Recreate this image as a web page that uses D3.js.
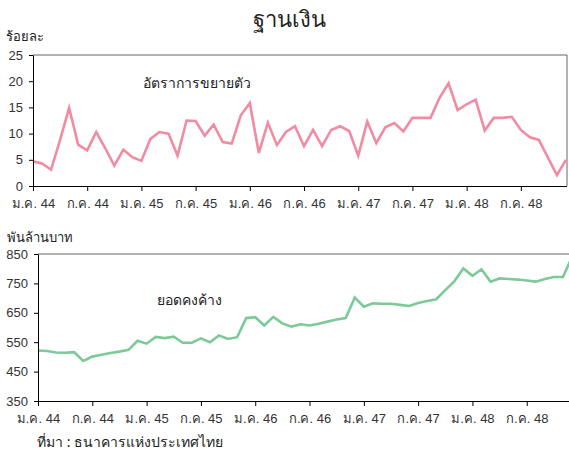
<!DOCTYPE html>
<meta charset="utf-8">
<style>
body { margin: 0; background: #fff; }
svg { font-family: "Noto Sans", "DejaVu Sans", sans-serif; }
.axis .domain { stroke: #000; }
.axis line { stroke: #000; }
.axis text { fill: #333; font-size: 13px; }
</style>
<body>
<script src="https://d3js.org/d3.v7.min.js"></script>
<script>
// monthly, ม.ค. 44 .. ธ.ค. 48
var growth = [4.7, 4.3, 3.1, 8.8, 14.9, 7.9, 6.8, 10.3, 7.2, 3.9,
  6.9, 5.5, 4.8, 9.0, 10.3, 10.0, 5.8, 12.5, 12.4, 9.6,
  11.7, 8.4, 8.1, 13.5, 15.8, 6.3, 12.1, 7.8, 10.3, 11.4,
  7.6, 10.7, 7.6, 10.7, 11.4, 10.5, 5.8, 12.3, 8.2, 11.2,
  12.0, 10.4, 13.0, 13.0, 13.0, 16.8, 19.6, 14.5, 15.6, 16.5,
  10.6, 13.0, 13.0, 13.2, 10.7, 9.3, 8.8, 5.4, 2.1, 5.0];

var outstanding = [522, 520, 515, 514, 516, 486, 501, 507, 513, 518,
  524, 555, 545, 568, 564, 569, 548, 548, 563, 550,
  573, 561, 567, 632, 635, 607, 636, 614, 603, 611,
  607, 613, 620, 627, 632, 702, 671, 682, 681, 681,
  677, 673, 683, 690, 696, 727, 757, 801, 776, 798,
  756, 767, 765, 763, 760, 756, 765, 772, 772, 840];

var tickIdx = [0, 6, 12, 18, 24, 30, 36, 42, 48, 54];
var tickLabels = ["ม.ค. 44", "ก.ค. 44", "ม.ค. 45", "ก.ค. 45", "ม.ค. 46",
  "ก.ค. 46", "ม.ค. 47", "ก.ค. 47", "ม.ค. 48", "ก.ค. 48"];

var topTicks = [0, 5, 10, 15, 20, 25];
var botTicks = [350, 450, 550, 650, 750, 850];

var W = 569, H = 453;
var svg = d3.select("body").append("svg")
  .attr("width", W).attr("height", H);

svg.append("text")
  .attr("x", 289).attr("y", 27)
  .attr("text-anchor", "middle")
  .style("font-size", "22px").style("fill", "#222")
  .text("ฐานเงิน");

function panel(opts) {
  var x = d3.scaleLinear().domain([0, 59]).range([opts.left, opts.right59]);
  var y = d3.scaleLinear().domain(opts.domain).range([opts.bottom, opts.top]);

  // top frame line
  svg.append("line")
    .attr("x1", opts.left).attr("x2", opts.frameRight)
    .attr("y1", opts.top).attr("y2", opts.top)
    .attr("stroke", "#666").attr("stroke-width", 1);
  if (opts.rightBorder) {
    svg.append("line")
      .attr("x1", opts.frameRight).attr("x2", opts.frameRight)
      .attr("y1", opts.top).attr("y2", opts.bottom)
      .attr("stroke", "#666").attr("stroke-width", 1);
  }

  var line = d3.line()
    .x(function(d, i) { return x(i); })
    .y(function(d) { return y(d); });

  svg.append("path")
    .datum(opts.data)
    .attr("fill", "none")
    .attr("stroke", opts.color)
    .attr("stroke-width", 2.6)
    .attr("stroke-linejoin", "miter")
    .attr("d", line);

  var yAxis = d3.axisLeft(y).tickValues(opts.yticks).tickSize(4).tickSizeOuter(0);
  svg.append("g")
    .attr("class", "axis")
    .attr("transform", "translate(" + opts.left + ",0)")
    .call(yAxis)
    .selectAll("text").attr("dx", "-3");

  var xAxis = d3.axisBottom(x).tickValues(tickIdx)
    .tickFormat(function(d, i) { return tickLabels[i]; })
    .tickSize(5).tickSizeOuter(0);
  var gx = svg.append("g")
    .attr("class", "axis")
    .attr("transform", "translate(0," + opts.bottom + ")")
    .call(xAxis);
  gx.select(".domain").attr("d", "M" + opts.left + ",0.5H" + opts.frameRight);
  gx.selectAll("text").attr("dy", "1.1em");

  svg.append("text")
    .attr("x", opts.unitX).attr("y", opts.unitY)
    .style("font-size", "13px").style("fill", "#222")
    .text(opts.unit);

  svg.append("text")
    .attr("x", opts.labelX).attr("y", opts.labelY)
    .style("font-size", "14px").style("fill", "#222")
    .text(opts.label);
}

panel({
  data: growth, color: "#f28ba2", domain: [0, 25], yticks: topTicks,
  left: 33, right59: 566, frameRight: 567, rightBorder: true,
  top: 55, bottom: 186,
  unit: "ร้อยละ", unitX: 6, unitY: 41,
  label: "อัตราการขยายตัว", labelX: 143, labelY: 88
});

panel({
  data: outstanding, color: "#7dca98", domain: [350, 850], yticks: botTicks,
  left: 38, right59: 572, frameRight: 569, rightBorder: false,
  top: 254, bottom: 401,
  unit: "พันล้านบาท", unitX: 7, unitY: 242,
  label: "ยอดคงค้าง", labelX: 157, labelY: 305
});

svg.append("text")
  .attr("x", 37).attr("y", 447)
  .style("font-size", "14px").style("fill", "#222")
  .text("ที่มา : ธนาคารแห่งประเทศไทย");
</script>
